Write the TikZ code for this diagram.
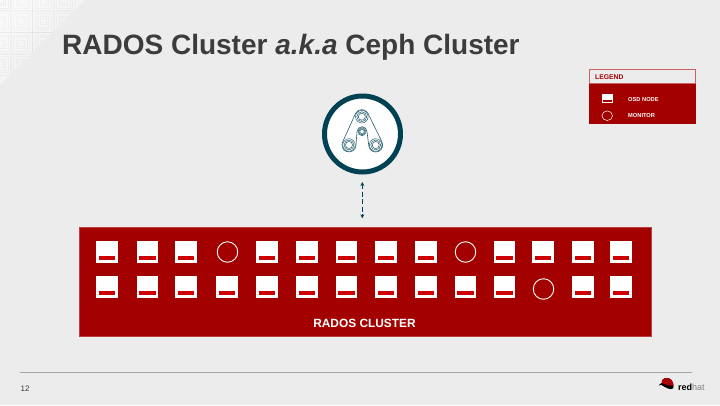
\documentclass[tikz,border=0pt]{standalone}
\usepackage{fontspec}
\setmainfont{Liberation Sans}
\usetikzlibrary{arrows.meta,shapes.geometric}
\definecolor{bg}{HTML}{ECECEC}
\definecolor{rhred}{HTML}{A30000}
\definecolor{barred}{HTML}{CC0000}
\definecolor{teal}{HTML}{004153}
\definecolor{titlegray}{HTML}{3C3C3C}
\tikzset{
  x=1pt,y=-1pt,
  osd/.style={fill=white,draw=none,minimum width=21.5pt,minimum height=21.5pt,inner sep=0pt,outer sep=0pt},
  mon/.style={circle,draw=white,line width=0.9pt,minimum size=20.5pt,inner sep=0pt},
  pulley/.style={draw=teal!85!white,line width=0.5pt,fill=white},
}
\newcommand{\osdat}[3]{%
  \node[osd] (#3) at (#1,#2) {};
  \fill[barred] ([xshift=2.5pt,yshift=3pt]#3.south west) rectangle ([xshift=-2.5pt,yshift=6.6pt]#3.south east);
}
\newcommand{\pulleyat}[3]{%
  \draw[pulley] (#1,#2) circle[radius=#3];
  \draw[pulley] (#1,#2) circle[radius=#3*0.78];
  \draw[pulley] (#1,#2) circle[radius=#3*0.56];
}
\begin{document}
\begin{tikzpicture}
\useasboundingbox (0,0) rectangle (720,405);
\fill[bg] (0,0) rectangle (720,405);
% corner pattern
\begin{scope}
\clip (0,0) -- (85,0) -- (0,85) -- cycle;
\shade[bottom color=white!75!bg,middle color=bg,top color=bg,shading angle=225] (0,0) rectangle (85,85);
\foreach \cx/\cy/\c in {0/0/5,21.5/0/10,43/0/14,64.5/0/18,0/21.5/10,21.5/21.5/14,43/21.5/20,64.5/21.5/22,0/43/14,21.5/43/20,43/43/22,0/64.5/18,21.5/64.5/22}{
  \foreach \r in {3,5.5,8,10.5}{
    \draw[black,draw opacity=0.0\c*0.6+0.02,line width=0.45pt] (\cx-\r,\cy-\r) rectangle (\cx+\r,\cy+\r);
  }
}
\end{scope}
\node[anchor=base west,inner sep=0pt,text=titlegray,font=\fontsize{28}{30}\selectfont\bfseries] (title) at (62,54) {RADOS Cluster \textit{a.k.a} Ceph Cluster};
% legend
\node[fill=rhred,draw=none,minimum width=107pt,minimum height=54.5pt,inner sep=0pt,anchor=north west] (legend) at (588.5,69) {};
\node[fill=bg,draw=rhred!60!white,line width=0.7pt,minimum width=106.4pt,minimum height=14pt,inner sep=0pt,anchor=north west] (legendhead) at (588.8,69.3) {};
\node[anchor=base west,inner sep=0pt,text=rhred,font=\fontsize{6.8}{7}\selectfont\bfseries] (legendt) at (595,79.7) {LEGEND};
\node[fill=white,minimum width=11pt,minimum height=8.8pt,inner sep=0pt] (lo) at (607.2,98.4) {};
\fill[rhred] (603,99.6) rectangle (611.5,101.6);
\node[ellipse,draw=white,line width=0.5pt,minimum width=10.6pt,minimum height=9.6pt,inner sep=0pt] (lm) at (607.2,115.7) {};
\node[anchor=west,inner sep=0pt,text=white,font=\fontsize{5.7}{6}\selectfont\bfseries] (lot) at (628,99.3) {OSD NODE};
\node[anchor=west,inner sep=0pt,text=white,font=\fontsize{5.7}{6}\selectfont\bfseries] (lmt) at (628,115.8) {MONITOR};
% icon
\node[circle,draw=teal,fill=white,line width=5pt,minimum size=76pt,inner sep=0pt] (icon) at (362.5,134) {};
\draw[teal!85!white,line width=0.6pt,line join=round]
  (355.4,113.8) -- (342.6,142.1)
  arc[start angle=204.3,end angle=0,radius=7]
  -- (357,131.7)
  arc[start angle=180,end angle=360,radius=5]
  -- (368.7,145)
  arc[start angle=180,end angle=-26.2,radius=7]
  -- (368.1,113.6)
  arc[start angle=-26.2,end angle=-155.7,radius=7] -- cycle;
\pulleyat{361.8}{116.7}{6.3}
\pulleyat{349}{145}{6.3}
\pulleyat{375.7}{145}{6.3}
\pulleyat{362}{131.7}{4}
% cluster
\node[fill=rhred,draw=rhred!75!white,line width=0.4pt,minimum width=572.5pt,minimum height=109.5pt,inner sep=0pt,anchor=north west] (cluster) at (78.5,226.5) {};
\node[text=white,inner sep=0pt,font=\fontsize{11.9}{13}\selectfont\bfseries] (clabel) at (364.5,323) {RADOS CLUSTER};
\coordinate (top) at (362.3,182);
\coordinate (bot) at (362.3,218.3);
\draw[teal,line width=0.6pt,dash pattern=on 5pt off 2.5pt,{Stealth[length=4pt,width=4pt]}-{Stealth[length=4pt,width=4pt]}] (top) -- (bot);
\foreach \x/\n in {107/a,147.5/b,186/c,267/e,307/f,346.5/g,386/h,426/i,504.5/k,543/l,583/m,621/n}{
  \osdat{\x}{252}{r1\n}
}
\node[mon] (r1d) at (227.5,252) {};
\node[mon] (r1j) at (465.5,252) {};
\foreach \x/\n in {107/a,147.5/b,186/c,227/d,267/e,307/f,346.5/g,386/h,426/i,465.5/j,504.5/k,583/m,621/n}{
  \osdat{\x}{287}{r2\n}
}
\node[mon] (r2l) at (543.5,289) {};
% footer
\coordinate (fl) at (20,372);
\coordinate (fr) at (692,372);
\draw[gray!70,line width=0.5pt] (fl) -- (fr);
\node[anchor=base west,inner sep=0pt,text=titlegray,font=\fontsize{8}{9}\selectfont] (pg) at (20.5,391) {12};
% logo
\fill[black] (659,385.5) .. controls (660,384) and (662,385) .. (664,386.5) .. controls (668,389.5) and (675,390.5) .. (673.5,386) .. controls (673,382) and (672,378) .. (666.5,378) .. controls (663,378) and (661,381) .. (662,383) .. controls (660,383.5) and (659,384.5) .. (659,385.5) -- cycle;
\fill[barred!85!black] (662,383) .. controls (661,381) and (663,378) .. (666.5,378) .. controls (672,378) and (673,382) .. (673.6,385.8) .. controls (670,385.8) and (665,384.8) .. (662,383) -- cycle;
\node[anchor=base west,inner sep=0pt,font=\fontsize{9}{10}\selectfont] (rh) at (678,390) {\textbf{red}\textcolor{gray}{hat}};
\end{tikzpicture}
\end{document}
